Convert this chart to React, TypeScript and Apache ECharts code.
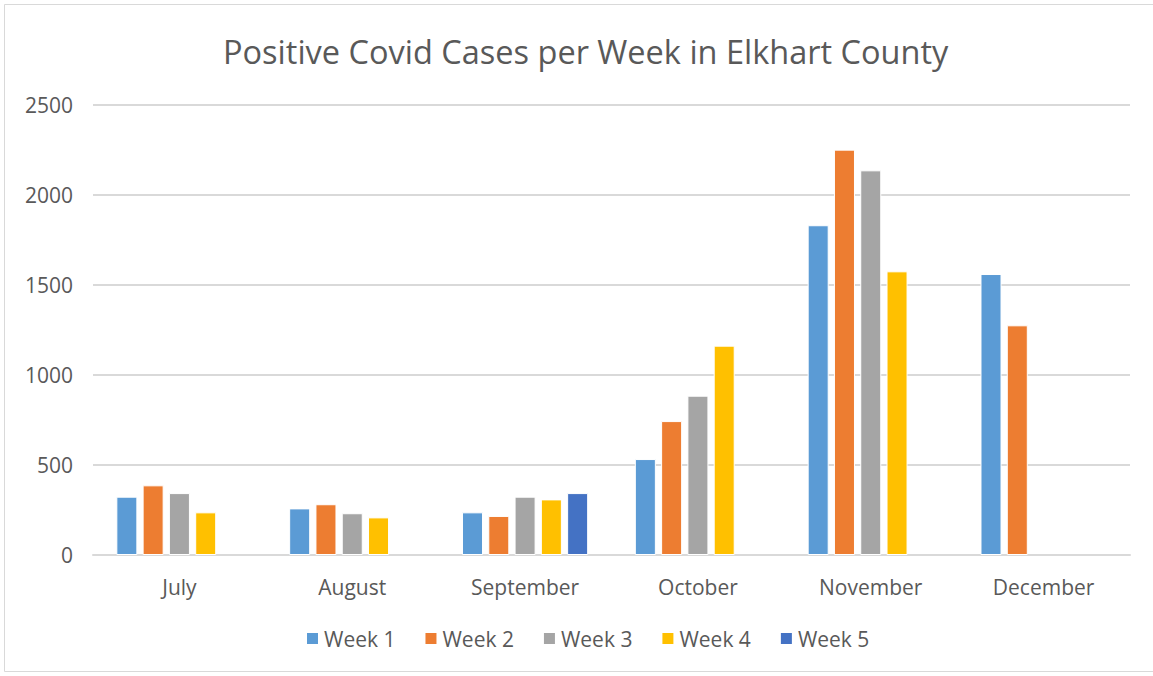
import React, { useEffect, useRef } from "react";
import * as echarts from "echarts";

const months = ["July", "August", "September", "October", "November", "December"];
const week1 = [324, 259, 237, 533, 1832, 1561];
const week2 = [387, 282, 217, 744, 2252, 1276];
const week3 = [344, 232, 324, 885, 2137, null];
const week4 = [237, 209, 309, 1163, 1576, null];
const week5 = [null, null, 344, null, null, null];
const seriesNames = ["Week 1", "Week 2", "Week 3", "Week 4", "Week 5"];
const seriesColors = ["#5B9BD5", "#ED7D31", "#A5A5A5", "#FFC000", "#4472C4"];
const yTicks = { min: 0, max: 2500, interval: 500 };

const FONT = "'Open Sans', 'Liberation Sans', sans-serif";

export default function App() {
  const ref = useRef<HTMLDivElement>(null);
  useEffect(() => {
    if (!ref.current) return;
    const chart = echarts.init(ref.current, null, { renderer: "svg" });
    const data = [week1, week2, week3, week4, week5];
    chart.setOption({
      animation: false,
      backgroundColor: "#ffffff",
      title: {
        text: "Positive Covid Cases per Week in Elkhart County",
        left: 218,
        top: 30,
        textStyle: { fontFamily: FONT, fontSize: 32.5, fontWeight: "normal", color: "#595959" },
      },
      graphic: [
        {
          type: "rect",
          shape: { x: 4.5, y: 4.5, width: 1160, height: 667 },
          style: { fill: "none", stroke: "#d9d9d9", lineWidth: 1 },
          silent: true,
        },
      ],
      legend: {
        data: seriesNames,
        bottom: 22,
        left: 300,
        itemWidth: 13,
        itemHeight: 13,
        itemGap: 28,
        icon: "rect",
        textStyle: { fontFamily: FONT, fontSize: 21, color: "#595959" },
      },
      grid: { left: 93, right: 23, top: 105, bottom: 121, containLabel: false },
      xAxis: {
        type: "category",
        data: months,
        axisLine: { lineStyle: { color: "#d9d9d9", width: 2 } },
        axisTick: { show: false },
        axisLabel: { margin: 21, fontFamily: FONT, fontSize: 21, color: "#595959" },
      },
      yAxis: {
        type: "value",
        min: yTicks.min,
        max: yTicks.max,
        interval: yTicks.interval,
        axisLine: { show: false },
        axisTick: { show: false },
        splitLine: { lineStyle: { color: "#d9d9d9", width: 2 } },
        axisLabel: {
          margin: 20,
          fontFamily: FONT,
          fontSize: 21,
          color: "#595959",
          formatter: (v: number) => String(v),
        },
      },
      series: seriesNames.map((name, i) => ({
        name,
        type: "bar",
        data: data[i],
        barGap: "25%",
        barCategoryGap: "27%",
        itemStyle: { color: seriesColors[i], borderColor: "#ffffff", borderWidth: 1 },
      })),
    });
    return () => chart.dispose();
  }, []);
  return (
    <div
      ref={ref}
      style={{ position: "fixed", left: 0, top: 0, width: 1153, height: 676 }}
    />
  );
}
